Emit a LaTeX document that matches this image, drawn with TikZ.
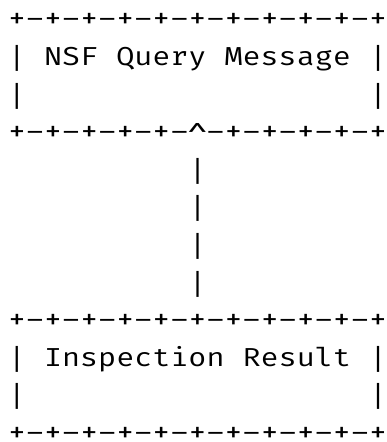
\documentclass[tikz,border=0pt]{standalone}
\usepackage{fontspec}
\usepackage{graphicx}
% Monospaced face, widened so that one character fills one grid cell
\newfontfamily\asciifont{Fira Mono}[FakeStretch=1.157]
% one grid cell per border character
\newcommand\cellw{18.05pt}
\newcommand\pl{\makebox[\cellw][c]{\scalebox{1.1}{+}}}
\newcommand\mi{\makebox[\cellw][c]{\scalebox{1.35}[1]{-}}}
\newcommand\ca{\makebox[\cellw][c]{\raisebox{-7pt}{\scalebox{1.25}[1.1]{\textasciicircum}}}}
\newcommand\vl{\raisebox{-3pt}{\scalebox{1}[1.1]{|}}}
\newcommand\plmi{\pl\mi}
\newcommand\mipl{\mi\pl}
\newcommand\edgerow{\plmi\plmi\plmi\plmi\plmi\plmi\plmi\plmi\plmi\plmi\pl}
\begin{document}
\begin{tikzpicture}[x=1pt,y=1pt,
  glyphs/.style={anchor=base west, inner sep=0pt, outer sep=0pt,
    font=\asciifont\fontsize{26}{26}\selectfont, text=black}]
\useasboundingbox (0,0) rectangle (387,442);
% \cell{name}{column}{row}{text}: text starting at a character cell
\newcommand\cell[4]{\node[glyphs] (#1) at ({8+#2*18.05},{442-28-(#3-1)*37.6}) {#4};}

% upper box
\cell{topA}{0}{1}{\edgerow}
\cell{qL}{0}{2}{\vl}
\cell{qW1}{2}{2}{NSF}
\cell{qW2}{6}{2}{Query}
\cell{qW3}{12}{2}{Message}
\cell{qR}{20}{2}{\vl}
\cell{qL2}{0}{3}{\vl}
\cell{qR2}{20}{3}{\vl}
\cell{topB}{0}{4}{\plmi\plmi\plmi\plmi\plmi\ca\mipl\mipl\mipl\mipl\mipl}

% vertical link
\cell{link1}{10}{5}{\vl}
\cell{link2}{10}{6}{\vl}
\cell{link3}{10}{7}{\vl}
\cell{link4}{10}{8}{\vl}

% lower box
\cell{botA}{0}{9}{\edgerow}
\cell{iL}{0}{10}{\vl}
\cell{iW1}{2}{10}{Inspection}
\cell{iW2}{13}{10}{Result}
\cell{iR}{20}{10}{\vl}
\cell{iL2}{0}{11}{\vl}
\cell{iR2}{20}{11}{\vl}
\cell{botB}{0}{12}{\edgerow}
\end{tikzpicture}
\end{document}
